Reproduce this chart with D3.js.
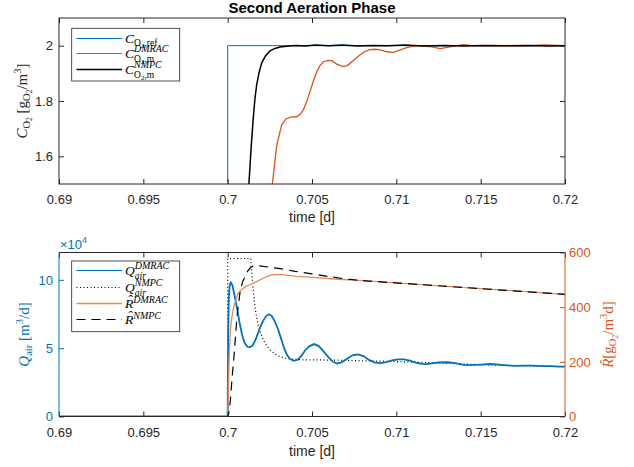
<!DOCTYPE html>
<html>
<head>
<meta charset="utf-8">
<script src="https://cdn.jsdelivr.net/npm/d3@7"></script>
<style>
body { margin: 0; background: #fff; }
svg { display: block; font-family: "Liberation Sans", Arial, sans-serif; }
</style>
</head>
<body>
<script>
const W = 634, H = 467;
const L = 59, R = 565;
const TOP1 = 18, BOT1 = 184, TOP2 = 252.5, BOT2 = 416.5;
const AX = "#262626", BLUE = "#0072BD", ORANGE = "#D95319", ORANGE2 = "#E8875C";

// --- data, top panel: oxygen concentration [gO2/m3] vs time [d]
const xTicks = [0.69, 0.695, 0.7, 0.705, 0.71, 0.715, 0.72];
const cTicks = [1.6, 1.8, 2.0];
const cRef = [[0.69, 0], [0.7, 0], [0.7, 2.0], [0.72, 2.0]];
const cNmpc = [[0.69, 0.3], [0.7008, 1.2], [0.70115, 1.42], [0.70126, 1.5], [0.7014, 1.64], [0.70152, 1.74],
  [0.70162, 1.81], [0.70172, 1.858], [0.70187, 1.905], [0.70202, 1.938], [0.70225, 1.964], [0.70251, 1.981],
  [0.7028, 1.99], [0.7031, 1.995], [0.7035, 1.998], [0.704, 2.001], [0.7046, 1.999], [0.7052, 2.002],
  [0.706, 2.0], [0.7068, 2.002], [0.7077, 1.999], [0.7086, 2.001], [0.7095, 2.0], [0.7105, 2.002],
  [0.7116, 1.999], [0.7128, 2.001], [0.714, 1.999], [0.7152, 2.001], [0.7165, 2.0], [0.7178, 2.001],
  [0.719, 1.999], [0.72, 2.0]];
const cDmrac = [[0.69, 0], [0.7024, 1.3], [0.70265, 1.5], [0.70291, 1.641], [0.7032, 1.713], [0.70345, 1.735],
  [0.70375, 1.742], [0.70409, 1.743], [0.7043, 1.752], [0.70448, 1.767], [0.70468, 1.797], [0.70488, 1.834],
  [0.70508, 1.872], [0.70528, 1.906], [0.70547, 1.928], [0.70567, 1.942], [0.70595, 1.947], [0.70617, 1.946],
  [0.7065, 1.932], [0.70686, 1.924], [0.7071, 1.928], [0.7074, 1.944], [0.70775, 1.962], [0.7081, 1.978],
  [0.70844, 1.986], [0.70875, 1.987], [0.70903, 1.985], [0.70945, 1.978], [0.70982, 1.976], [0.7102, 1.984],
  [0.71061, 1.993], [0.711, 1.998], [0.7114, 2.0], [0.7121, 1.996], [0.7126, 1.989], [0.7131, 1.995],
  [0.7136, 2.0], [0.714, 2.004], [0.7145, 2.0], [0.716, 1.999], [0.718, 2.0], [0.7187, 2.003], [0.72, 2.0]];

// --- data, bottom panel: air flow [m3/d] (left) and respiration [gO2/m3 d] (right)
const qTicks = [0, 5e4, 10e4];
const rTicks = [0, 200, 400, 600];
const qDmrac = [[0.69, 0], [0.7, 0], [0.70003, 6.0e4], [0.70007, 8.8e4], [0.70012, 9.6e4], [0.70019, 9.8e4],
  [0.70028, 9.6e4], [0.7004, 8.9e4], [0.70054, 8.0e4], [0.7007, 6.9e4], [0.70085, 6.0e4], [0.701, 5.4e4],
  [0.70117, 5.1e4], [0.70132, 5.06e4], [0.70148, 5.2e4], [0.70165, 5.6e4], [0.7018, 6.1e4], [0.70195, 6.6e4],
  [0.7021, 7.0e4], [0.70228, 7.35e4], [0.70245, 7.48e4], [0.70262, 7.35e4], [0.7028, 6.95e4], [0.703, 6.35e4],
  [0.70318, 5.65e4], [0.70335, 5.0e4], [0.70352, 4.5e4], [0.7037, 4.2e4], [0.70393, 4.07e4], [0.70415, 4.15e4],
  [0.70437, 4.45e4], [0.7046, 4.85e4], [0.70485, 5.15e4], [0.70513, 5.3e4], [0.7054, 5.15e4], [0.7057, 4.75e4],
  [0.706, 4.3e4], [0.70625, 4.0e4], [0.7065, 3.88e4], [0.70678, 3.98e4], [0.7071, 4.25e4], [0.7074, 4.48e4],
  [0.70772, 4.55e4], [0.70805, 4.42e4], [0.7084, 4.12e4], [0.70875, 3.94e4], [0.70905, 3.9e4], [0.7094, 3.98e4],
  [0.70975, 4.1e4], [0.7101, 4.18e4], [0.71045, 4.18e4], [0.7108, 4.08e4], [0.71115, 3.94e4], [0.7115, 3.85e4],
  [0.71178, 3.83e4], [0.7121, 3.88e4], [0.7125, 3.95e4], [0.71305, 3.97e4], [0.7135, 3.9e4], [0.7139, 3.8e4],
  [0.7144, 3.76e4], [0.715, 3.8e4], [0.7156, 3.84e4], [0.7162, 3.78e4], [0.717, 3.7e4], [0.7176, 3.72e4],
  [0.7181, 3.72e4], [0.7186, 3.68e4], [0.7192, 3.68e4], [0.7196, 3.65e4], [0.72, 3.65e4]];
const qNmpc = [[0.69, 0], [0.7, 0], [0.7, 11.56e4], [0.70137, 11.56e4], [0.70143, 10.5e4], [0.70152, 9.2e4],
  [0.70162, 8.0e4], [0.70175, 7.0e4], [0.7019, 6.3e4], [0.70205, 5.8e4], [0.70225, 5.3e4], [0.70251, 4.87e4],
  [0.7028, 4.58e4], [0.7031, 4.38e4], [0.7035, 4.25e4], [0.7039, 4.19e4], [0.7045, 4.15e4], [0.7055, 4.14e4],
  [0.7065, 4.12e4], [0.708, 4.08e4], [0.7095, 4.04e4], [0.711, 3.98e4], [0.7125, 3.92e4], [0.714, 3.84e4],
  [0.7155, 3.78e4], [0.717, 3.72e4], [0.7185, 3.68e4], [0.72, 3.65e4]];
const rDmrac = [[0.69, 0], [0.7, 0], [0.70003, 60], [0.70006, 146], [0.7001, 240], [0.70016, 316],
  [0.70025, 365], [0.70036, 400], [0.7005, 430], [0.7006, 448], [0.70085, 466], [0.7011, 476], [0.7013, 482],
  [0.70152, 488], [0.70177, 495], [0.70202, 503], [0.70228, 511], [0.70251, 516], [0.70285, 519], [0.7032, 519],
  [0.7036, 516], [0.70409, 513], [0.7046, 511], [0.70508, 509], [0.7063, 503], [0.708, 497], [0.72, 447]];
const rNmpc = [[0.69, 0], [0.7, 0], [0.70008, 15], [0.70016, 60], [0.70026, 140], [0.70036, 210],
  [0.70046, 290], [0.70055, 365], [0.70065, 415], [0.70075, 462], [0.7009, 495], [0.70105, 515],
  [0.7012, 533], [0.70135, 545], [0.70152, 551], [0.7018, 552], [0.7025, 546], [0.7031, 541], [0.704, 531],
  [0.705, 522], [0.706, 512], [0.707, 503], [0.708, 497], [0.72, 447]];

const svg = d3.select("body").append("svg").attr("width", W).attr("height", H);

const x1 = d3.scaleLinear().domain([0.69, 0.72]).range([L, R]);
const y1 = d3.scaleLinear().domain([1.5, 2.1]).range([BOT1, TOP1]);
const x2 = d3.scaleLinear().domain([0.69, 0.72]).range([L, R]);
const yQ = d3.scaleLinear().domain([0, 12e4]).range([BOT2, TOP2]);
const yR = d3.scaleLinear().domain([0, 600]).range([BOT2, TOP2]);

const fmtX = d => String(+d.toFixed(3));

function styleAxis(g, color) {
  g.select(".domain").remove();
  g.selectAll(".tick line").attr("stroke", color);
  g.selectAll(".tick text").attr("fill", color).attr("font-size", 13)
    .attr("font-family", "Liberation Sans, Arial, sans-serif");
}

function clip(id, y0, y1b) {
  svg.append("clipPath").attr("id", id).append("rect")
    .attr("x", L).attr("y", y0).attr("width", R - L).attr("height", y1b - y0);
}
clip("c1", TOP1, BOT1);
clip("c2", TOP2, BOT2);

// math-like text as tspans inside one <text>; sup/sub stacks via mark/reset
function mathSpans(txt, x0, y0, parts) {
  let cx = x0, mark = x0, far = x0, lastX = x0, lastW = 0;
  parts.forEach(p => {
    if (p.mark) mark = cx;
    if (p.reset) { far = cx; cx = mark; }
    const t = txt.append("tspan").attr("y", y0 + (p.dy || 0))
      .attr("font-size", p.size).attr("font-style", p.it ? "italic" : "normal").text(p.s);
    if (p.sans) t.attr("font-family", "Liberation Sans, Arial, sans-serif");
    t.attr("x", cx);
    const w = t.node().getComputedTextLength();
    if (p.over) {
      t.attr("x", lastX + (lastW - w) / 2 + 1.5);
    } else {
      lastX = cx; lastW = w;
      cx += w;
    }
  });
  return Math.max(cx, far) - x0;
}
const serifText = (g, fill) => g.append("text").attr("fill", fill)
  .attr("font-family", "Liberation Serif, Times New Roman, serif");

// ===== top panel =====
const p1 = svg.append("g");
const line1 = d3.line().x(d => x1(d[0])).y(d => y1(d[1]));
const lines1 = p1.append("g").attr("clip-path", "url(#c1)").attr("fill", "none");
lines1.append("path").datum(cRef).attr("d", line1).attr("stroke", BLUE).attr("stroke-width", 1);
lines1.append("path").datum(cDmrac).attr("d", line1).attr("stroke", ORANGE).attr("stroke-width", 1.3);
lines1.append("path").datum(cNmpc).attr("d", line1).attr("stroke", "#000").attr("stroke-width", 1.5);

p1.append("g").attr("transform", `translate(0,${BOT1})`)
  .call(d3.axisBottom(x1).tickValues(xTicks).tickFormat(fmtX).tickSizeInner(-5).tickSizeOuter(0).tickPadding(11))
  .call(g => styleAxis(g, AX));
p1.append("g").attr("transform", `translate(0,${TOP1})`)
  .call(d3.axisTop(x1).tickValues(xTicks).tickFormat("").tickSizeInner(-5).tickSizeOuter(0))
  .call(g => styleAxis(g, AX));
p1.append("g").attr("transform", `translate(${L},0)`)
  .call(d3.axisLeft(y1).tickValues(cTicks).tickFormat(d => String(+d.toFixed(1))).tickSizeInner(-5).tickSizeOuter(0).tickPadding(6))
  .call(g => styleAxis(g, AX));
p1.append("g").attr("transform", `translate(${R},0)`)
  .call(d3.axisRight(y1).tickValues(cTicks).tickFormat("").tickSizeInner(-5).tickSizeOuter(0))
  .call(g => styleAxis(g, AX));
p1.append("rect").attr("x", L).attr("y", TOP1).attr("width", R - L).attr("height", BOT1 - TOP1)
  .attr("fill", "none").attr("stroke", AX).attr("stroke-width", 1);

svg.append("text").attr("x", (L + R) / 2).attr("y", 12.5).attr("text-anchor", "middle")
  .attr("font-size", 15).attr("font-weight", "bold").attr("fill", "#000").text("Second Aeration Phase");
svg.append("text").attr("x", (L + R) / 2).attr("y", 222).attr("text-anchor", "middle")
  .attr("font-size", 14).attr("fill", AX).text("time [d]");

function yLabel(cx, cy, parts, fill) {
  const g = svg.append("g").attr("transform", `translate(${cx},${cy}) rotate(-90)`);
  const inner = g.append("g");
  const w = mathSpans(serifText(inner, fill), 0, 0, parts);
  inner.attr("transform", `translate(${-w / 2},0)`);
}

yLabel(27, (TOP1 + BOT1) / 2, [
  { s: "C", size: 15, it: 1 }, { s: "O", size: 10.5, dy: 3 }, { s: "2", size: 7.5, dy: 5 },
  { s: " [g", size: 15 }, { s: "O", size: 10.5, dy: 3 }, { s: "2", size: 7.5, dy: 5 },
  { s: "/m", size: 15 }, { s: "3", size: 10.5, dy: -6 }, { s: "]", size: 15 }], AX);

// legends: one box, sample lines and a single text block each
function legend(box, rows) {
  svg.append("rect").attr("x", box[0]).attr("y", box[1]).attr("width", box[2] - box[0]).attr("height", box[3] - box[1])
    .attr("fill", "#fff").attr("stroke", AX).attr("stroke-width", 0.8);
  const txt = serifText(svg, "#000");
  rows.forEach(r => {
    svg.append("line").attr("x1", 76.5).attr("x2", 122).attr("y1", r.y).attr("y2", r.y)
      .attr("stroke", r.stroke).attr("stroke-width", r.width).attr("stroke-dasharray", r.dash);
    mathSpans(txt, 125, r.y + 4, r.parts);
  });
}
const supSub = (base, sup, sub) => [{ s: base, size: 13.5, it: 1 }, { s: sup, size: 10, it: 1, dy: -5.5, mark: 1 }]
  .concat(sub.map((p, i) => Object.assign(i === 0 ? { reset: 1 } : {}, p)));
const o2m = [{ s: "O", size: 9.5, dy: 4.5 }, { s: "2", size: 7, dy: 6.5 }, { s: ",m", size: 9.5, dy: 4.5 }];

legend([71.7, 28.3, 179.7, 81], [
  { y: 38.5, stroke: BLUE, width: 1, parts: [{ s: "C", size: 13.5, it: 1 }, { s: "O", size: 9.5, dy: 3 }, { s: "2", size: 7, dy: 5 }, { s: ",ref", size: 9.5, dy: 3 }] },
  { y: 53.5, stroke: ORANGE, width: 1, parts: supSub("C", "DMRAC", o2m) },
  { y: 69.5, stroke: "#000", width: 1.3, parts: supSub("C", "NMPC", o2m) }]);

// ===== bottom panel =====
const p2 = svg.append("g");
const lineQ = d3.line().x(d => x2(d[0])).y(d => yQ(d[1]));
const lineR = d3.line().x(d => x2(d[0])).y(d => yR(d[1]));
const lines2 = p2.append("g").attr("clip-path", "url(#c2)").attr("fill", "none");
lines2.append("path").datum(qNmpc).attr("d", lineQ).attr("stroke", "#000").attr("stroke-width", 1.2).attr("stroke-dasharray", "1,2.5");
lines2.append("path").datum(qDmrac).attr("d", lineQ).attr("stroke", BLUE).attr("stroke-width", 1.8);
lines2.append("path").datum(rDmrac).attr("d", lineR).attr("stroke", ORANGE2).attr("stroke-width", 1.3);
lines2.append("path").datum(rNmpc).attr("d", lineR).attr("stroke", "#000").attr("stroke-width", 1.2).attr("stroke-dasharray", "9,6");

p2.append("g").attr("transform", `translate(0,${BOT2})`)
  .call(d3.axisBottom(x2).tickValues(xTicks).tickFormat(fmtX).tickSizeInner(-5).tickSizeOuter(0).tickPadding(11))
  .call(g => styleAxis(g, AX));
p2.append("g").attr("transform", `translate(0,${TOP2})`)
  .call(d3.axisTop(x2).tickValues(xTicks).tickFormat("").tickSizeInner(-5).tickSizeOuter(0))
  .call(g => styleAxis(g, AX));
p2.append("g").attr("transform", `translate(${L},0)`)
  .call(d3.axisLeft(yQ).tickValues(qTicks).tickFormat(d => String(d / 1e4)).tickSizeInner(-5).tickSizeOuter(0).tickPadding(6))
  .call(g => styleAxis(g, BLUE));
p2.append("g").attr("transform", `translate(${R},0)`)
  .call(d3.axisRight(yR).tickValues(rTicks).tickSizeInner(-5).tickSizeOuter(0).tickPadding(4))
  .call(g => styleAxis(g, ORANGE));

p2.append("line").attr("x1", L).attr("x2", R).attr("y1", TOP2).attr("y2", TOP2).attr("stroke", AX);
p2.append("line").attr("x1", L).attr("x2", R).attr("y1", BOT2).attr("y2", BOT2).attr("stroke", AX);
p2.append("line").attr("x1", L).attr("x2", L).attr("y1", TOP2).attr("y2", BOT2).attr("stroke", BLUE);
p2.append("line").attr("x1", R).attr("x2", R).attr("y1", TOP2).attr("y2", BOT2).attr("stroke", ORANGE);

svg.append("text").attr("x", (L + R) / 2).attr("y", 456).attr("text-anchor", "middle")
  .attr("font-size", 14).attr("fill", AX).text("time [d]");

mathSpans(serifText(svg, BLUE), 60, 249.3,
  [{ s: "\u00d710", size: 13, sans: 1 }, { s: "4", size: 9, sans: 1, dy: -6 }]);

yLabel(29, (TOP2 + BOT2) / 2, [
  { s: "Q", size: 15, it: 1 }, { s: "air", size: 10.5, dy: 3 },
  { s: " [m", size: 15 }, { s: "3", size: 10.5, dy: -6 }, { s: "/d]", size: 15 }], BLUE);
yLabel(613, (TOP2 + BOT2) / 2, [
  { s: "R", size: 15, it: 1 }, { s: "\u02c6", size: 15, dy: -3.5, over: 1 },
  { s: "[g", size: 15 }, { s: "O", size: 10.5, dy: 3 }, { s: "2", size: 7.5, dy: 5 },
  { s: "/m", size: 15 }, { s: "3", size: 10.5, dy: -6 }, { s: "d]", size: 15 }], ORANGE);

const air = [{ s: "air", size: 9.5, it: 1, dy: 4.5 }];
const rHat = sup => [{ s: "R", size: 13.5, it: 1 }, { s: "\u02c6", size: 13.5, dy: -3.5, over: 1 }, { s: sup, size: 10, it: 1, dy: -5 }];
legend([71.7, 261, 179.7, 331.7], [
  { y: 270.5, stroke: BLUE, width: 1.2, parts: supSub("Q", "DMRAC", air) },
  { y: 287.5, stroke: "#000", width: 1.2, dash: "1,2.5", parts: supSub("Q", "NMPC", air) },
  { y: 303.5, stroke: ORANGE2, width: 1.3, parts: rHat("DMRAC") },
  { y: 319.5, stroke: "#000", width: 1.2, dash: "9,6", parts: rHat("NMPC") }]);
</script>
</body>
</html>
